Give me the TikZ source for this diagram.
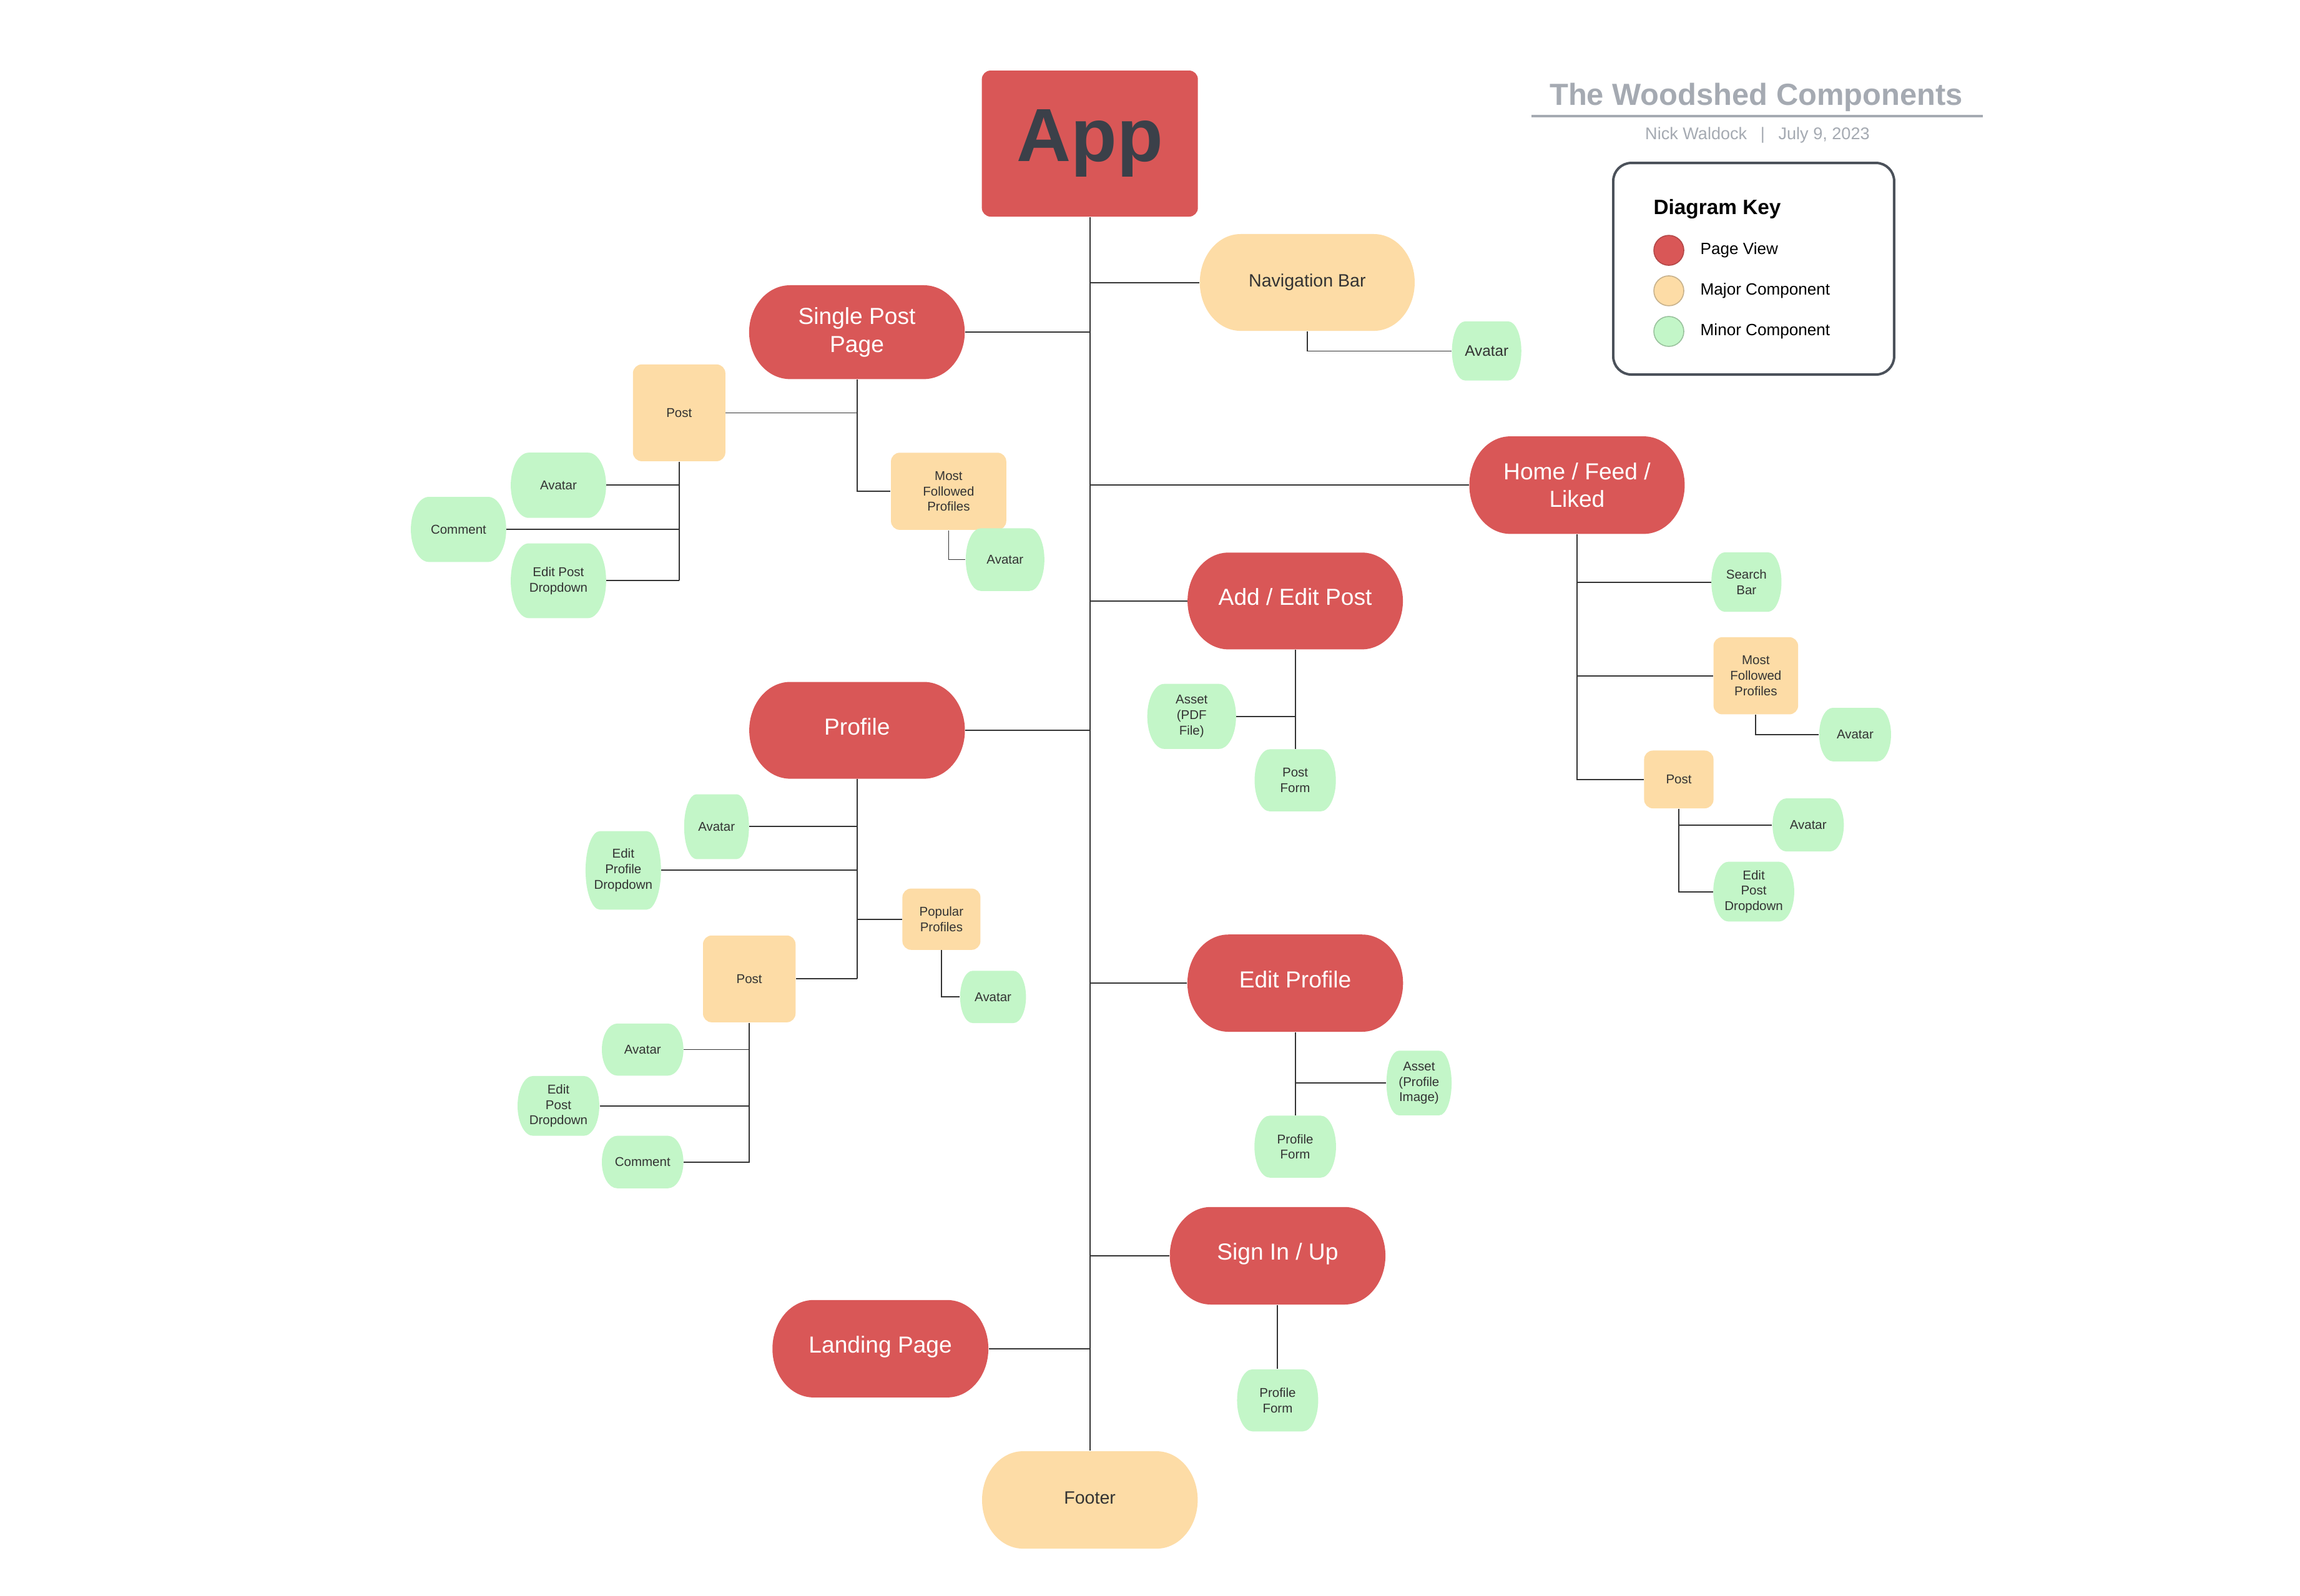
\documentclass[tikz,border=0pt]{standalone}
\usepackage{fontspec}
\setmainfont{Liberation Sans}
\usetikzlibrary{calc}
\definecolor{pagered}{RGB}{217,87,87}
\definecolor{majoryel}{RGB}{253,220,166}
\definecolor{minorgrn}{RGB}{195,246,200}
\definecolor{txtdark}{RGB}{51,51,51}
\definecolor{appdark}{RGB}{59,64,73}
\definecolor{linecol}{RGB}{51,51,51}
\definecolor{titlegray}{RGB}{165,170,178}
\definecolor{keyborder}{RGB}{75,81,90}
\definecolor{redborder}{RGB}{180,72,72}
\definecolor{yelborder}{RGB}{200,178,140}
\definecolor{grnborder}{RGB}{155,195,158}

\newcommand\blobshape[5]{%
  \pgfmathsetmacro\blobR{0.19*#3}%
  \pgfmathsetmacro\blobH{#4/2}%
  \fill[#5] ({#1-#3/2+\blobR},{-#2+\blobH}) -- ({#1+#3/2-\blobR},{-#2+\blobH})
    arc[start angle=90,end angle=-90,x radius=\blobR*0.25mm,y radius=\blobH*0.25mm]
    -- ({#1-#3/2+\blobR},{-#2-\blobH})
    arc[start angle=270,end angle=90,x radius=\blobR*0.25mm,y radius=\blobH*0.25mm] -- cycle;}
\newcommand\pill[8]{%
  \blobshape{#2}{#3}{#4}{#5}{#6}%
  \node[#7, inner sep=0pt, minimum width={#4*0.25mm}, minimum height={#5*0.25mm}] (#1) at (#2,-#3) {#8};}
\newcommand\ybox[6]{%
  \node[yelbox, minimum width={#4*0.25mm}, minimum height={#5*0.25mm}] (#1) at (#2,-#3) {#6};}

\tikzset{
  redtxt/.style={text=white, align=center, font=\fontsize{11.25}{13.7}\selectfont},
  redone/.style={redtxt, text height=8.05pt, text depth=3.8pt},
  yeltxt/.style={text=txtdark, align=center, font=\fontsize{8.65}{10.5}\selectfont},
  yelone/.style={yeltxt, text height=6.2pt, text depth=2.2pt},
  smalltxt/.style={text=txtdark, align=center, font=\fontsize{6.2}{7.5}\selectfont},
  navavtxt/.style={text=txtdark, align=center, font=\fontsize{7.35}{9}\selectfont},
  yelbox/.style={rectangle, rounded corners=1.5mm, fill=majoryel, inner sep=0pt, smalltxt},
  conn/.style={draw=linecol, line width=0.6pt},
  thinconn/.style={draw=linecol, line width=0.45pt},
  keydot/.style={circle, minimum size=5.1mm, inner sep=0pt, line width=0.5pt},
  keylabel/.style={anchor=west, inner sep=0pt, text=black, font=\fontsize{7.9}{9.5}\selectfont},
}

\begin{document}
\begin{tikzpicture}[x=0.25mm, y=0.25mm]
\fill[white] (0,0) rectangle (1568,-1087.9);
\useasboundingbox (0,0) rectangle (1568,-1087.9);

% ---- title and key ----
\node[text=titlegray, font=\bfseries\fontsize{14.8}{17}\selectfont] (title) at (1197.3,-66.2) {The Woodshed Components};
\draw[titlegray, line width=1pt] (1044,-79.2) -- (1351.8,-79.2);
\node[text=titlegray, font=\fontsize{8.2}{10}\selectfont] (subtitle) at (1198.1,-92) {Nick Waldock\hspace{0.8em}|\hspace{0.8em}July 9, 2023};
\draw[keyborder, line width=1.2pt, rounded corners=3.1mm] (1099.8,-111.1) rectangle (1291.3,-255.4);
\node[anchor=west, inner sep=0pt, text=black, font=\bfseries\fontsize{10.1}{12}\selectfont] (keytitle) at (1127,-142.5) {Diagram Key};
\node[keydot, fill=pagered, draw=redborder] (k1) at (1137.7,-170.7) {};
\node[keydot, fill=majoryel, draw=yelborder] (k2) at (1137.7,-198.3) {};
\node[keydot, fill=minorgrn, draw=grnborder] (k3) at (1137.7,-226) {};
\node[keylabel] (l1) at (1159,-170.7) {Page View};
\node[keylabel] (l2) at (1159,-198.3) {Major Component};
\node[keylabel] (l3) at (1159,-226) {Minor Component};

% ---- App ----
\node[rectangle, rounded corners=1.5mm, fill=pagered, inner sep=0pt, minimum width={147.3*0.25mm}, minimum height={99.6*0.25mm}, text=appdark, font=\bfseries\fontsize{36.5}{40}\selectfont] (app) at (743,-97.9) {App};

% ---- page views ----
\pill{spp}{584.2}{226.5}{147}{64}{pagered}{redtxt}{Single Post\\Page}
\pill{hfl}{1075.1}{330.8}{146.8}{66.5}{pagered}{redtxt, yshift=0pt}{Home / Feed /\\[-0.5pt]Liked}
\pill{aep}{883}{409.8}{146.8}{66}{pagered}{redone}{Add / Edit Post}
\pill{profile}{584.3}{498}{147}{66}{pagered}{redone}{Profile}
\pill{editprofile}{883}{670.4}{147}{66.3}{pagered}{redone}{Edit Profile}
\pill{signin}{871}{856.3}{147}{66.5}{pagered}{redone}{Sign In / Up}
\pill{landing}{600.2}{919.7}{147.2}{66.4}{pagered}{redone}{Landing Page}

% ---- major components ----
\pill{nav}{891.2}{192.6}{146.5}{66}{majoryel}{yeltxt}{Navigation Bar}
\pill{footer}{743}{1022.8}{147}{66.4}{majoryel}{yelone}{Footer}
\ybox{postA}{463}{281.5}{63}{66}{Post}
\ybox{mfpA}{646.7}{335}{78.6}{52.6}{Most\\Followed\\Profiles}
\ybox{mfpB}{1197}{460.8}{57.7}{52.6}{Most\\Followed\\Profiles}
\ybox{postB}{1144.5}{531.5}{47.3}{39.4}{Post}
\ybox{popular}{641.8}{626.8}{53.2}{41.8}{Popular\\Profiles}
\ybox{postC}{510.8}{667.5}{63.1}{59.2}{Post}

% ---- minor components ----
\pill{avnav}{1013.5}{239.3}{47.3}{40.3}{minorgrn}{navavtxt}{Avatar}
\pill{avA}{380.7}{330.9}{65}{44.5}{minorgrn}{smalltxt}{Avatar}
\pill{commentA}{312.6}{361}{65}{44.4}{minorgrn}{smalltxt}{Comment}
\pill{editA}{380.7}{396}{65}{51}{minorgrn}{smalltxt}{Edit Post\\Dropdown}
\pill{avMfpA}{685.2}{381.6}{53.6}{42.7}{minorgrn}{smalltxt}{Avatar}
\pill{search}{1190.6}{396.9}{47.8}{40.5}{minorgrn}{smalltxt}{Search\\Bar}
\pill{avMfpB}{1264.7}{500.9}{49}{36.5}{minorgrn}{smalltxt}{Avatar}
\pill{avPostB}{1232.7}{562.5}{48.6}{36.1}{minorgrn}{smalltxt}{Avatar}
\pill{editB}{1195.6}{608}{55.2}{40.8}{minorgrn}{smalltxt}{Edit\\Post\\Dropdown}
\pill{assetPdf}{812.4}{488.5}{60.5}{44.3}{minorgrn}{smalltxt}{Asset\\(PDF\\File)}
\pill{postForm}{883}{532.1}{55.4}{42.4}{minorgrn}{smalltxt}{Post\\Form}
\pill{avC}{488.5}{563.7}{44.2}{44.2}{minorgrn}{smalltxt}{Avatar}
\pill{editProf}{424.9}{593.5}{51.4}{53.5}{minorgrn}{smalltxt}{Edit\\Profile\\Dropdown}
\pill{avPop}{677}{679.8}{44.9}{35.6}{minorgrn}{smalltxt}{Avatar}
\pill{avD}{438.1}{715.7}{55.6}{35.5}{minorgrn}{smalltxt}{Avatar}
\pill{editD}{380.7}{754.1}{55.7}{40.8}{minorgrn}{smalltxt}{Edit\\Post\\Dropdown}
\pill{commentD}{438.1}{792.4}{55.6}{35.8}{minorgrn}{smalltxt}{Comment}
\pill{assetImg}{967.4}{738.5}{44.4}{44}{minorgrn}{smalltxt}{Asset\\(Profile\\Image)}
\pill{profFormA}{883}{781.9}{55.6}{42.3}{minorgrn}{smalltxt}{Profile\\Form}
\pill{profFormB}{871}{954.9}{55.3}{42.3}{minorgrn}{smalltxt}{Profile\\Form}

% ---- connectors ----
\draw[conn] (app.south) -- (footer.north);
\draw[conn] (nav.west) -- (nav.west -| app.south);
\draw[conn] (spp.east) -- (spp.east -| app.south);
\draw[conn] (hfl.west) -- (hfl.west -| app.south);
\draw[conn] (aep.west) -- (aep.west -| app.south);
\draw[conn] (profile.east) -- (profile.east -| app.south);
\draw[conn] (editprofile.west) -- (editprofile.west -| app.south);
\draw[thinconn] (signin.west) -- (signin.west -| app.south);
\draw[thinconn] (landing.east) -- (landing.east -| app.south);

\draw[thinconn] (nav.south) |- (avnav.west);

\draw[conn] (spp.south) |- (mfpA.west);
\draw[thinconn] (postA.east) -- (postA.east -| spp.south);
\draw[thinconn] (mfpA.south) |- (avMfpA.west);
\draw[thinconn] (postA.south) -- (postA.south |- editA.east);
\draw[conn] (avA.east) -- (avA.east -| postA.south);
\draw[conn] (commentA.east) -- (commentA.east -| postA.south);
\draw[conn] (editA.east) -- (editA.east -| postA.south);

\draw[conn] (hfl.south) |- (postB.west);
\draw[conn] (search.west) -- (search.west -| hfl.south);
\draw[conn] (mfpB.west) -- (mfpB.west -| hfl.south);
\draw[conn] (mfpB.south) |- (avMfpB.west);
\draw[conn] (postB.south) |- (editB.west);
\draw[conn] (avPostB.west) -- (avPostB.west -| postB.south);

\draw[conn] (aep.south) -- (postForm.north);
\draw[conn] (assetPdf.east) -- (assetPdf.east -| aep.south);

\draw[conn] (profile.south) -- (profile.south |- postC.east);
\draw[conn] (postC.east) -- (postC.east -| profile.south);
\draw[conn] (avC.east) -- (avC.east -| profile.south);
\draw[conn] (editProf.east) -- (editProf.east -| profile.south);
\draw[conn] (popular.west) -- (popular.west -| profile.south);
\draw[conn] (popular.south) |- (avPop.west);
\draw[conn] (postC.south) |- (commentD.east);
\draw[thinconn] (avD.east) -- (avD.east -| postC.south);
\draw[conn] (editD.east) -- (editD.east -| postC.south);

\draw[conn] (editprofile.south) -- (profFormA.north);
\draw[conn] (assetImg.west) -- (assetImg.west -| editprofile.south);
\draw[conn] (signin.south) -- (profFormB.north);
\end{tikzpicture}
\end{document}
